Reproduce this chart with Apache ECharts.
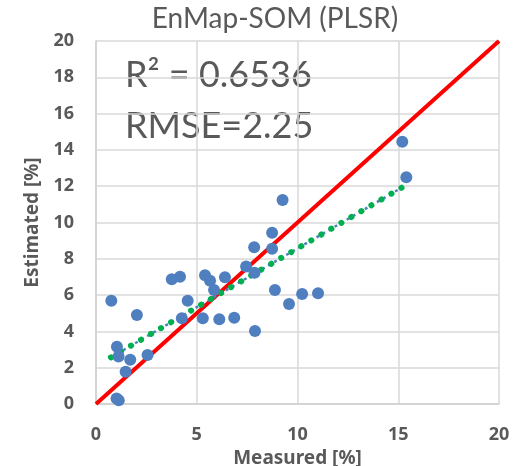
<!DOCTYPE html>
<html>
<head>
<meta charset="utf-8">
<script src="https://cdn.jsdelivr.net/npm/echarts@6/dist/echarts.min.js"></script>
<style>
  html, body { margin: 0; padding: 0; background: #fff; }
  #chart { width: 513px; height: 466px; }
</style>
</head>
<body>
<div id="chart"></div>
<script>
// measured vs estimated values
var measured = [0.76, 1.04, 1.12, 1.70, 1.47, 1.02, 1.13, 2.03, 2.56, 3.76, 4.17,
  4.26, 4.55, 5.30, 5.41, 5.66, 5.86, 6.12, 6.40, 6.86, 7.45, 7.87, 7.89, 8.88,
  7.85, 8.74, 8.74, 9.26, 9.58, 10.23, 11.02, 15.2, 15.4];
var estimated = [5.69, 3.16, 2.62, 2.44, 1.78, 0.30, 0.20, 4.90, 2.70, 6.87, 7.01,
  4.72, 5.69, 4.72, 7.10, 6.79, 6.28, 4.67, 6.98, 4.75, 7.57, 7.23, 4.02, 6.28,
  8.63, 8.55, 9.44, 11.24, 5.51, 6.06, 6.10, 14.45, 12.49];

// 1:1 line and linear trend line end points
var oneToOneX = [0, 20];
var oneToOneY = [0, 20];
var trendX = [0.74, 15.2];
var trendY = [2.57, 11.94];

var axisTicks = [0, 20, 5, 2]; // min, max, x interval, y interval

var grey = "#595959";
var boldFont = "Noto Sans";
var chart = echarts.init(document.getElementById("chart"));

function pairs(xs, ys) {
  return xs.map(function (x, i) { return [x, ys[i]]; });
}

chart.setOption({
  animation: false,
  title: {
    text: "EnMap-SOM (PLSR)",
    left: 270,
    textAlign: "center",
    top: 0,
    textStyle: { fontFamily: "Lato", fontSize: 28, fontWeight: "normal", color: grey },
  },
  graphic: [
    {
      type: "text",
      left: 125,
      top: 57,
      style: { text: "R² = 0.6536", font: "36px Lato", fill: grey },
    },
    {
      type: "text",
      left: 125,
      top: 108,
      style: { text: "RMSE=2.25", font: "36px Lato", fill: grey },
    },
  ],
  grid: { left: 96, right: 14, top: 41, bottom: 62, outerBoundsMode: "none" },
  xAxis: {
    type: "value",
    min: axisTicks[0],
    max: axisTicks[1],
    interval: axisTicks[2],
    name: "Measured [%]",
    nameLocation: "middle",
    nameGap: 41,
    nameTextStyle: { fontFamily: boldFont, fontSize: 19, fontWeight: "bold", color: grey },
    axisLine: { show: true, lineStyle: { color: "#d0d0d0", width: 1.5 } },
    axisTick: { show: false },
    axisLabel: { margin: 22, fontFamily: boldFont, fontSize: 18, fontWeight: "bold", color: grey },
    splitLine: { show: true, lineStyle: { color: "#d9d9d9", width: 1.5 } },
  },
  yAxis: {
    type: "value",
    min: axisTicks[0],
    max: axisTicks[1],
    interval: axisTicks[3],
    name: "Estimated [%]",
    nameLocation: "middle",
    nameGap: 52,
    nameTextStyle: { fontFamily: boldFont, fontSize: 19, fontWeight: "bold", color: grey },
    axisLine: { show: true, lineStyle: { color: "#d0d0d0", width: 1.5 } },
    axisTick: { show: false },
    axisLabel: { margin: 22, fontFamily: boldFont, fontSize: 18, fontWeight: "bold", color: grey },
    splitLine: { show: true, lineStyle: { color: "#d9d9d9", width: 1.5 } },
  },
  series: [
    {
      type: "line",
      data: pairs(oneToOneX, oneToOneY),
      symbol: "none",
      lineStyle: { color: "#ff0000", width: 4 },
      z: 3,
    },
    {
      type: "line",
      data: pairs(trendX, trendY),
      symbol: "none",
      lineStyle: { color: "#4f81bd", width: 2.5, type: [3, 4] },
      z: 4,
    },
    {
      type: "line",
      data: pairs(trendX, trendY),
      symbol: "none",
      lineStyle: { color: "#00b050", width: 6, type: [0.1, 11.5], cap: "round" },
      z: 5,
    },
    {
      type: "scatter",
      data: pairs(measured, estimated),
      symbolSize: 12,
      itemStyle: { color: "#4f7fbf", opacity: 1 },
      z: 6,
    },
  ],
});
</script>
</body>
</html>
